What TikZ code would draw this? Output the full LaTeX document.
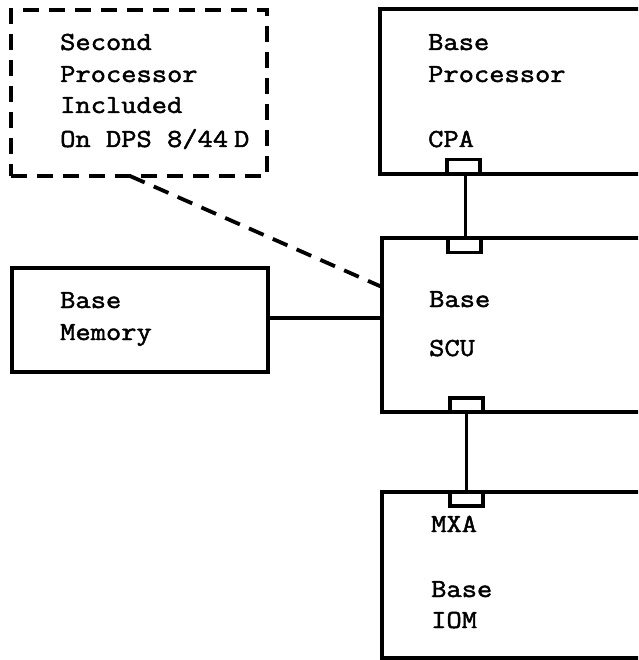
\documentclass[tikz,border=0pt]{standalone}
\usepackage{fontspec}
\setmonofont{Latin Modern Mono}[FakeStretch=1.14,FakeBold=1.8]
\begin{document}
\begin{tikzpicture}[x=1pt,y=-1pt,
  box/.style={draw,line width=3.4pt,rectangle,inner sep=0pt},
  dbox/.style={draw,line width=3.8pt,rectangle,inner sep=0pt,dash pattern=on 16pt off 10pt},
  port/.style={draw,line width=3.2pt,rectangle,inner sep=0pt,minimum width=33pt,minimum height=14pt,fill=white},
  wire/.style={line width=3.4pt},
  dwire/.style={line width=3.8pt,dash pattern=on 16pt off 10pt},
  lbl/.style={anchor=base west,inner sep=0pt,font=\ttfamily\fontsize{26}{30}\selectfont}
]
\useasboundingbox (0,0) rectangle (638,660);
\clip (0,0) rectangle (638,660);
% boxes
\node[dbox,minimum width=256pt,minimum height=166pt] (second) at (139,93) {};
\node[box,minimum width=290pt,minimum height=165pt] (proc) at (525,91.5) {};
\node[box,minimum width=290pt,minimum height=174pt] (scu) at (527,325) {};
\node[box,minimum width=290pt,minimum height=166pt] (iom) at (527,575) {};
\node[box,minimum width=256pt,minimum height=104pt] (mem) at (140,320) {};
% ports
\node[port] (cpa) at (463.5,166.5) {};
\node[port] (scutop) at (464.5,245.5) {};
\node[port] (scubot) at (466.5,405) {};
\node[port] (mxa) at (466.5,499) {};
% labels
\node[lbl] (s1) at (60,50) {Second};
\node[lbl] (s2) at (60,82) {Processor};
\node[lbl] (s3) at (60,113) {Included};
\node[lbl] (s4) at (60,147) {On DPS 8/44\hspace{6pt}D};
\node[lbl] (p1) at (428,50) {Base};
\node[lbl] (p2) at (428,82) {Processor};
\node[lbl] (p3) at (428,147) {CPA};
\node[lbl] (m1) at (60,308) {Base};
\node[lbl] (m2) at (60,340) {Memory};
\node[lbl] (c1) at (429,307) {Base};
\node[lbl] (c2) at (429,356) {SCU};
\node[lbl] (i1) at (431,532) {MXA};
\node[lbl] (i2) at (431,597) {Base};
\node[lbl] (i3) at (431,628) {IOM};
% connectors
\draw[wire] (cpa.south) ++(2,0) coordinate (cpaw) -- (cpaw |- scutop.north);
\draw[wire] (scubot.south) -- (mxa.north);
\draw[wire] (mem.east |- 0,318) coordinate (memw) -- (memw -| scu.west);
\coordinate (dstart) at (130,176);
\coordinate (dend) at (382,287);
\draw[dwire] (dstart) -- (dend);
\end{tikzpicture}
\end{document}
